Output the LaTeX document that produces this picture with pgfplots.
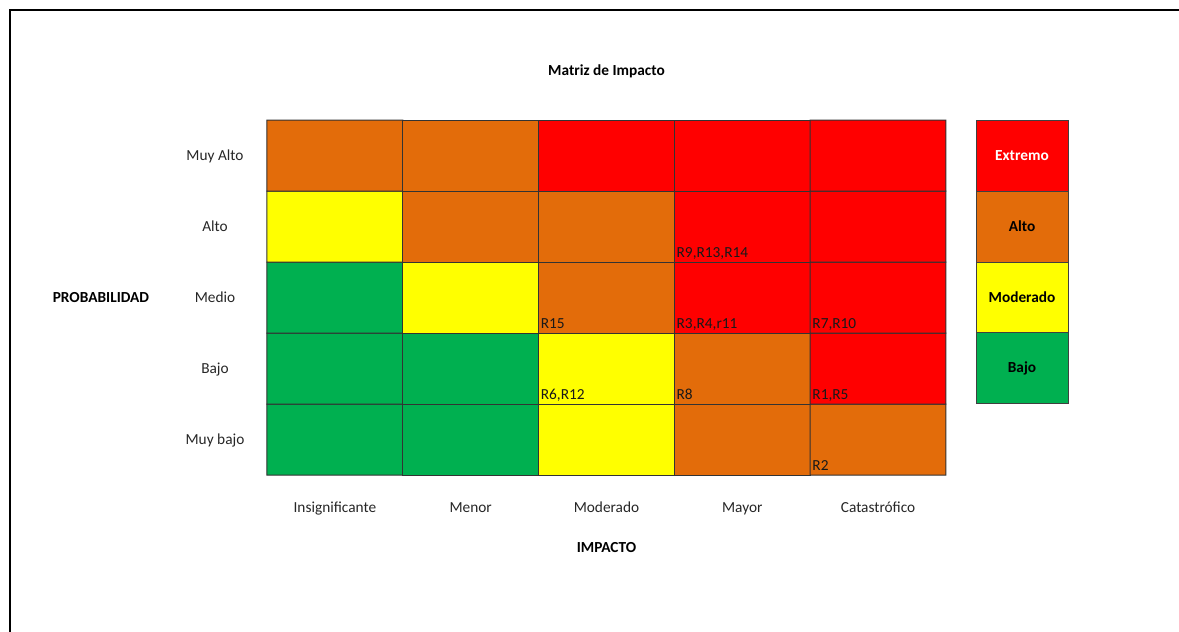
\documentclass[border=0pt]{standalone}
\usepackage{fontspec}
\setmainfont{Carlito}
\usepackage{pgfplots}
\usepackage{pgfplotstable}
\pgfplotsset{compat=1.18}

\definecolor{cBajo}{RGB}{0,176,80}
\definecolor{cModerado}{RGB}{255,255,0}
\definecolor{cAlto}{RGB}{227,108,10}
\definecolor{cExtremo}{RGB}{255,0,0}

% nivel: 0 = Bajo, 1 = Moderado, 2 = Alto, 3 = Extremo
% x = impacto (0 Insignificante ... 4 Catastrófico), y = probabilidad (0 Muy bajo ... 4 Muy Alto)
\pgfplotstableread{
x y nivel
0 0 0
1 0 0
2 0 1
3 0 2
4 0 2
0 1 0
1 1 0
2 1 1
3 1 2
4 1 3
0 2 0
1 2 1
2 2 2
3 2 3
4 2 3
0 3 1
1 3 2
2 3 2
3 3 3
4 3 3
0 4 2
1 4 2
2 4 3
3 4 3
4 4 3
}\matriz

% riesgos: esquina inferior izquierda de la celda donde se ubican
\pgfplotstableread{
x y texto
2.5 2.5 R9,R13,R14
1.5 1.5 R15
2.5 1.5 R3,R4,r11
3.5 1.5 R7,R10
1.5 0.5 R6,R12
2.5 0.5 R8
3.5 0.5 R1,R5
3.5 -0.5 R2
}\riesgos

\begin{document}
\fontsize{11.5pt}{13.8pt}\selectfont
\begin{tikzpicture}[x=1pt,y=1pt]
\useasboundingbox (-200.25,-117.75) rectangle (684,356.25);
\draw[line width=1.6pt] (-192.75,-130) -- (-192.75,348.75) -- (700,348.75);

\begin{axis}[
  name=main, at={(0pt,0pt)}, anchor=south west,
  scale only axis, width=509.25pt, height=266.25pt,
  xmin=-0.5, xmax=4.5, ymin=-0.5, ymax=4.5,
  axis line style={draw=none},
  tick style={draw=none}, major tick length=0pt,
  xtick={0,...,4}, ytick={0,...,4},
  xticklabels={Insignificante,Menor,Moderado,Mayor,Catastrófico},
  yticklabels={Muy bajo,Bajo,Medio,Alto,Muy Alto},
  xticklabel style={anchor=base, yshift=-27.75pt, text=black!85},
  yticklabel style={anchor=base, xshift=-39pt, yshift=-4pt, text=black!85},
  title={Matriz de Impacto},
  title style={at={(rel axis cs:0.5,1.1408)}, anchor=center, yshift=-6.75pt, font=\bfseries},
  xlabel={IMPACTO},
  xlabel style={at={(rel axis cs:0.5,-0.2056)}, anchor=center, font=\bfseries},
  ylabel={PROBABILIDAD},
  ylabel style={rotate=-90, at={(rel axis cs:-0.2445,0.5)}, anchor=center, font=\bfseries},
  colormap={riesgo}{rgb255=(0,176,80) rgb255=(255,255,0) rgb255=(227,108,10) rgb255=(255,0,0)},
  colormap access=direct,
  clip=false,
]
\addplot[matrix plot*, mesh/cols=5, point meta=explicit, draw=black!80, line width=0.75pt]
  table[x=x, y=y, meta=nivel] {\matriz};
\addplot[draw=none, mark=none, nodes near coords, point meta=explicit symbolic,
  every node near coord/.append style={anchor=base west, xshift=1.5pt, yshift=3.75pt,
    inner sep=0pt, text=black!90}]
  table[x=x, y=y, meta=texto] {\riesgos};
\end{axis}

\begin{axis}[
  at={(531.75pt,53.25pt)}, anchor=south west,
  scale only axis, width=69pt, height=213pt,
  xmin=0, xmax=1, ymin=0, ymax=4,
  hide axis, clip=false,
]
\addplot[fill=cBajo, draw=black!75, line width=0.75pt] coordinates {(0,0) (1,0) (1,1) (0,1)} -- cycle;
\addplot[fill=cModerado, draw=black!75, line width=0.75pt] coordinates {(0,1) (1,1) (1,2) (0,2)} -- cycle;
\addplot[fill=cAlto, draw=black!75, line width=0.75pt] coordinates {(0,2) (1,2) (1,3) (0,3)} -- cycle;
\addplot[fill=cExtremo, draw=black!75, line width=0.75pt] coordinates {(0,3) (1,3) (1,4) (0,4)} -- cycle;
\node[font=\bfseries] at (axis cs:0.5,0.5) {Bajo};
\node[font=\bfseries] at (axis cs:0.5,1.5) {Moderado};
\node[font=\bfseries] at (axis cs:0.5,2.5) {Alto};
\node[font=\bfseries, text=white] at (axis cs:0.5,3.5) {Extremo};
\end{axis}
\end{tikzpicture}
\end{document}
